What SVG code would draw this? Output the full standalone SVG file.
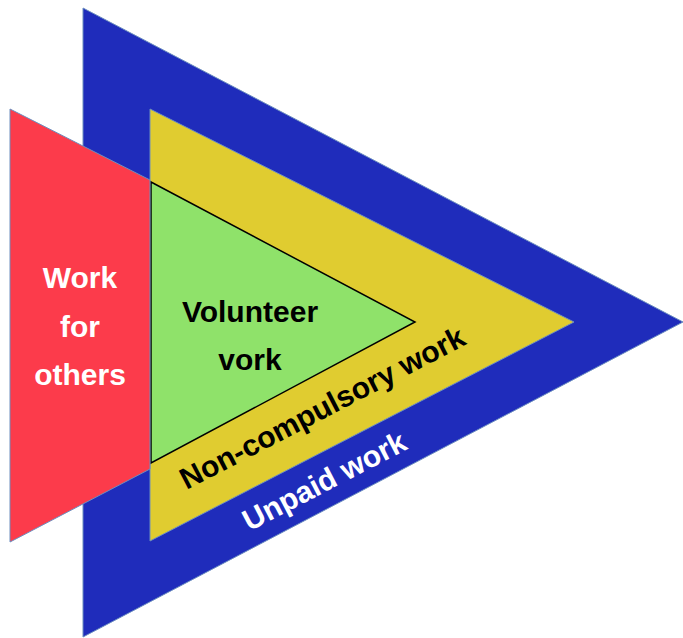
<svg xmlns="http://www.w3.org/2000/svg" width="683" height="638" viewBox="0 0 683 638">
<style>
.shape{stroke:#6c8ebf;stroke-width:1}
.lbl{font-family:"Liberation Sans",Arial,sans-serif;font-weight:bold;font-size:30px;text-anchor:middle}
.w{fill:#ffffff}
.k{fill:#000000}
</style>
<rect width="683" height="638" fill="#ffffff"/>
<g id="unpaid">
<polygon class="shape" points="83,8 683,322 83,637" fill="#1f2cbb"/>
<text class="lbl w" transform="translate(329,490) rotate(-27.5)">Unpaid work</text>
</g>
<g id="noncompulsory">
<polygon class="shape" points="150,109 574,322 150,541" fill="#e0cc30"/>
<text class="lbl k" transform="translate(327,417) rotate(-27.5)">Non-compulsory work</text>
</g>
<g id="volunteer">
<polygon points="151,182 415,322 151,463" fill="#8fe26a" stroke="#000000" stroke-width="1.5"/>
<text class="lbl k" x="250" y="322">Volunteer</text>
<text class="lbl k" x="250" y="370">vork</text>
</g>
<g id="others">
<polygon class="shape" points="10,109 150,180 150,469 10,542" fill="#fc3b4b"/>
<text class="lbl w" x="80" y="288">Work</text>
<text class="lbl w" x="80" y="337">for</text>
<text class="lbl w" x="80" y="385">others</text>
</g>
<g id="connectors"/>
</svg>
